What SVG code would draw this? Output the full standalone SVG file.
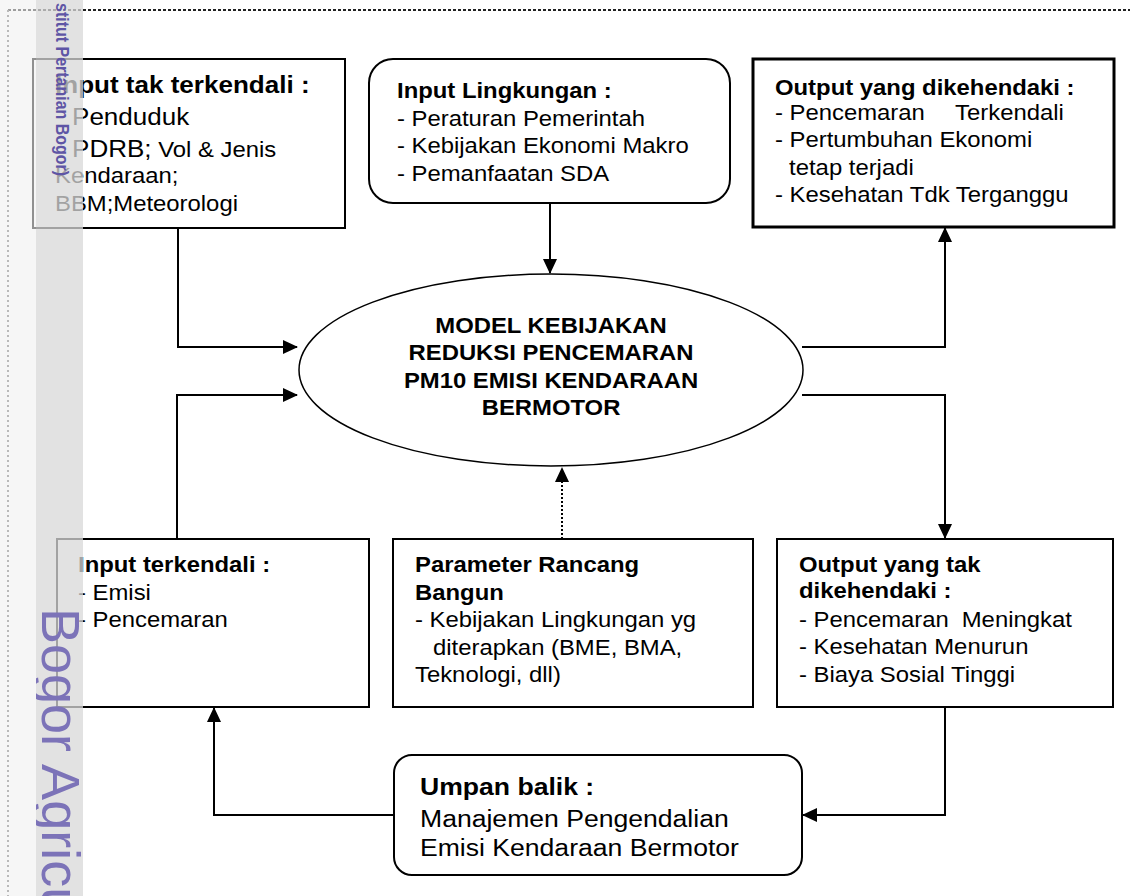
<svg xmlns="http://www.w3.org/2000/svg" width="1130" height="896" viewBox="0 0 1130 896">
<style>
.box{fill:#fff;stroke:#000;stroke-width:2}
.t{font-family:"Liberation Sans",Arial,sans-serif;font-size:22px;fill:#000}
.b{font-weight:bold}
.conn{fill:none;stroke:#000;stroke-width:2}
.wm{font-family:"Liberation Sans",Arial,sans-serif}
</style>
<defs>
<marker id="ah" markerUnits="userSpaceOnUse" markerWidth="15" markerHeight="14" viewBox="0 0 15 14" refX="14" refY="7" orient="auto"><path d="M0,0 L15,7 L0,14 Z" fill="#000"/></marker>
<clipPath id="strip"><rect x="36" y="0" width="47" height="896"/></clipPath>
</defs>
<rect x="0" y="0" width="1130" height="896" fill="#fff"/>
<g id="border">
<line x1="8" y1="10" x2="1130" y2="10" stroke="#222" stroke-width="2" stroke-dasharray="3 2"/>
<line x1="8" y1="10" x2="8" y2="896" stroke="#666" stroke-width="2" stroke-dasharray="2 3"/>
</g>
<g id="connectors">
<path class="conn" d="M178 228 V347 H297" marker-end="url(#ah)"/>
<path class="conn" d="M177 539 V395 H297" marker-end="url(#ah)"/>
<path class="conn" d="M550 203 V273" marker-end="url(#ah)"/>
<path class="conn" d="M562 539 V468" stroke-dasharray="2 2" marker-end="url(#ah)"/>
<path class="conn" d="M802 347 H945 V228" marker-end="url(#ah)"/>
<path class="conn" d="M802 395 H945 V538" marker-end="url(#ah)"/>
<path class="conn" d="M945 707 V815 H803" marker-end="url(#ah)"/>
<path class="conn" d="M394 815 H214 V708" marker-end="url(#ah)"/>
</g>
<g id="input-tak-terkendali">
<rect class="box" x="33" y="59" width="312" height="169"/>
<g transform="translate(55,0) scale(1.085,1)">
<text class="t b" y="93" style="font-size:24px">Input tak terkendali :</text>
<text class="t" x="15.7" y="125" style="font-size:24px">Penduduk</text>
<text class="t" x="15.7" y="157" style="font-size:24px">PDRB;<tspan style="font-size:22px"> Vol &amp; Jenis</tspan></text>
<text class="t" x="0" y="183">Kendaraan;</text>
<text class="t" x="0" y="211">BBM;Meteorologi</text>
</g>
</g>
<g id="input-lingkungan">
<rect class="box" x="369" y="59" width="361" height="144" rx="24"/>
<g transform="translate(397,0) scale(1.085,1)">
<text class="t b" y="98">Input Lingkungan :</text>
<text class="t" y="126">- Peraturan Pemerintah</text>
<text class="t" y="153">- Kebijakan Ekonomi Makro</text>
<text class="t" y="181">- Pemanfaatan SDA</text>
</g>
</g>
<g id="output-dikehendaki">
<rect class="box" x="753" y="59" width="361" height="168" style="stroke-width:3"/>
<g transform="translate(775,0) scale(1.085,1)">
<text class="t b" y="95">Output yang dikehendaki :</text>
<text class="t" y="120">- Pencemaran<tspan x="166">Terkendali</tspan></text>
<text class="t" y="147">- Pertumbuhan Ekonomi</text>
<text class="t" x="13" y="175">tetap terjadi</text>
<text class="t" y="202">- Kesehatan Tdk Terganggu</text>
</g>
</g>
<g id="model">
<ellipse cx="551" cy="370" rx="252" ry="96" fill="#fff" stroke="#000" stroke-width="1.5"/>
<g transform="translate(551,0) scale(1.085,1)">
<text class="t b" y="333" text-anchor="middle">MODEL KEBIJAKAN</text>
<text class="t b" y="360" text-anchor="middle">REDUKSI PENCEMARAN</text>
<text class="t b" y="388" text-anchor="middle">PM10 EMISI KENDARAAN</text>
<text class="t b" y="415" text-anchor="middle">BERMOTOR</text>
</g>
</g>
<g id="input-terkendali">
<rect class="box" x="57" y="539" width="312" height="168"/>
<g transform="translate(78,0) scale(1.085,1)">
<text class="t b" y="572">Input terkendali :</text>
<text class="t" y="600">- Emisi</text>
<text class="t" y="627">- Pencemaran</text>
</g>
</g>
<g id="parameter">
<rect class="box" x="393" y="539" width="360" height="168"/>
<g transform="translate(415,0) scale(1.085,1)">
<text class="t b" y="572">Parameter Rancang</text>
<text class="t b" y="600">Bangun</text>
<text class="t" y="627">- Kebijakan Lingkungan yg</text>
<text class="t" x="16.6" y="655">diterapkan (BME, BMA,</text>
<text class="t" y="682">Teknologi, dll)</text>
</g>
</g>
<g id="output-tak-dikehendaki">
<rect class="box" x="777" y="539" width="336" height="168"/>
<g transform="translate(799,0) scale(1.085,1)">
<text class="t b" y="572">Output yang tak</text>
<text class="t b" y="598">dikehendaki :</text>
<text class="t" y="627">- Pencemaran<tspan x="150">Meningkat</tspan></text>
<text class="t" y="654">- Kesehatan Menurun</text>
<text class="t" y="682">- Biaya Sosial Tinggi</text>
</g>
</g>
<g id="umpan-balik">
<rect class="box" x="394" y="755" width="408" height="120" rx="18"/>
<g transform="translate(420,0) scale(1.085,1)">
<text class="t b" y="795" style="font-size:24.5px">Umpan balik :</text>
<text class="t" y="827" style="font-size:24.5px">Manajemen Pengendalian</text>
<text class="t" y="856" style="font-size:24.5px">Emisi Kendaraan Bermotor</text>
</g>
</g>
<g id="watermark">
<rect x="0" y="0" width="36" height="896" fill="#f0f0f0" opacity="0.6"/>
<rect x="36" y="0" width="47" height="896" fill="#d8d8d8" opacity="0.75"/>
<text class="wm" transform="translate(56,3) rotate(90) scale(1,1.1)" style="font-size:16px;font-weight:bold;fill:#5e55a5">stitut Pertanian Bogor)</text>
<g clip-path="url(#strip)">
<text class="wm" transform="translate(42,608) rotate(90)" style="font-size:54px;fill:#7c73b8">Bogor Agricu</text>
</g>
</g>
</svg>
